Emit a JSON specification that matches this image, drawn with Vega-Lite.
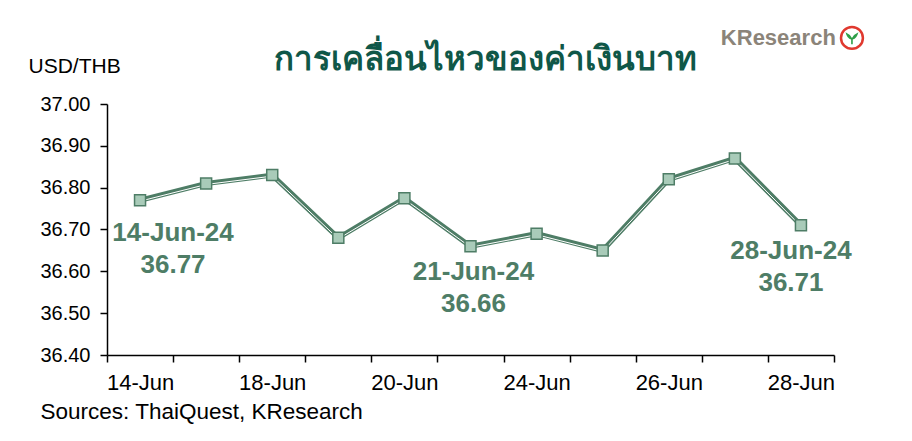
{
  "$schema": "https://vega.github.io/schema/vega-lite/v6.json",
  "autosize": "none",
  "width": 727,
  "height": 251,
  "padding": {"left": 107, "top": 104, "right": 78, "bottom": 86},
  "background": "white",
  "config": {"view": {"stroke": null}, "font": "Liberation Sans"},
  "datasets": {
    "fx": [
      {"date": "14-Jun", "rate": 36.77},
      {"date": "17-Jun", "rate": 36.81},
      {"date": "18-Jun", "rate": 36.83},
      {"date": "19-Jun", "rate": 36.68},
      {"date": "20-Jun", "rate": 36.775},
      {"date": "21-Jun", "rate": 36.66},
      {"date": "24-Jun", "rate": 36.69},
      {"date": "25-Jun", "rate": 36.65},
      {"date": "26-Jun", "rate": 36.82},
      {"date": "27-Jun", "rate": 36.87},
      {"date": "28-Jun", "rate": 36.71}
    ],
    "notes": [
      {"date": "14-Jun", "rate": 36.77, "label": "14-Jun-24\n36.77"},
      {"date": "21-Jun", "rate": 36.66, "label": "21-Jun-24\n36.66"},
      {"date": "28-Jun", "rate": 36.71, "label": "28-Jun-24\n36.71"}
    ],
    "heading": [
      {"date": "21-Jun", "rate": 37.081, "label": "การเคลื่อนไหวของค่าเงินบาท"}
    ],
    "logo": [
      {"date": "27-Jun", "rate": 37.141, "label": "KResearch"}
    ],
    "badge": [
      {"date": "28-Jun", "rate": 37.158}
    ]
  },
  "encoding": {
    "x": {
      "field": "date",
      "type": "ordinal",
      "sort": null,
      "scale": {"type": "band", "paddingInner": 0, "paddingOuter": 0},
      "axis": {
        "title": "Sources: ThaiQuest, KResearch",
        "titleFontSize": 22.5,
        "titleFontWeight": "normal",
        "titleColor": "black",
        "titleAnchor": "start",
        "titleAlign": "left",
        "titleBaseline": "alphabetic",
        "titleX": -67,
        "titleY": 63,
        "labelAngle": 0,
        "labelFontSize": 22,
        "labelColor": "black",
        "labelPadding": 10,
        "labelExpr": "indexof(['14-Jun','18-Jun','20-Jun','24-Jun','26-Jun','28-Jun'], datum.value) >= 0 ? datum.value : ''",
        "tickBand": "extent",
        "tickSize": 7,
        "tickColor": "black",
        "tickWidth": 1.5,
        "domainColor": "black",
        "domainWidth": 1.5,
        "grid": false
      }
    },
    "y": {
      "field": "rate",
      "type": "quantitative",
      "scale": {"domain": [36.4, 37.0], "nice": false, "zero": false},
      "axis": {
        "title": "USD/THB",
        "titleAngle": 0,
        "titleFontSize": 21,
        "titleFontWeight": "normal",
        "titleColor": "black",
        "titleAlign": "left",
        "titleBaseline": "alphabetic",
        "titleX": -79,
        "titleY": -32,
        "values": [36.4, 36.5, 36.6, 36.7, 36.8, 36.9, 37.0],
        "format": ".2f",
        "labelFontSize": 20,
        "labelColor": "black",
        "labelPadding": 10,
        "tickSize": 7,
        "tickColor": "black",
        "tickWidth": 1.5,
        "domainColor": "black",
        "domainWidth": 1.5,
        "grid": false
      }
    }
  },
  "layer": [
    {
      "data": {"name": "fx"},
      "mark": {"type": "line", "color": "#4e7d66", "strokeWidth": 5},
      "encoding": {}
    },
    {
      "data": {"name": "fx"},
      "mark": {"type": "line", "color": "white", "strokeWidth": 1, "yOffset": 1},
      "encoding": {}
    },
    {
      "data": {"name": "fx"},
      "mark": {"type": "point", "shape": "square", "filled": true, "fill": "#a9cbb9", "stroke": "#4e7d66", "strokeWidth": 1.5, "size": 121, "opacity": 1},
      "encoding": {}
    },
    {
      "data": {"name": "notes"},
      "transform": [{"filter": "datum.date == '14-Jun'"}],
      "mark": {"type": "text", "lineBreak": "\n", "lineHeight": 32, "fontSize": 26, "fontWeight": "bold", "color": "#4e7d66", "align": "center", "baseline": "alphabetic", "dx": 33, "dy": 41},
      "encoding": {"text": {"field": "label"}}
    },
    {
      "data": {"name": "notes"},
      "transform": [{"filter": "datum.date == '21-Jun'"}],
      "mark": {"type": "text", "lineBreak": "\n", "lineHeight": 32, "fontSize": 26, "fontWeight": "bold", "color": "#4e7d66", "align": "center", "baseline": "alphabetic", "dx": 3, "dy": 34},
      "encoding": {"text": {"field": "label"}}
    },
    {
      "data": {"name": "notes"},
      "transform": [{"filter": "datum.date == '28-Jun'"}],
      "mark": {"type": "text", "lineBreak": "\n", "lineHeight": 32, "fontSize": 26, "fontWeight": "bold", "color": "#4e7d66", "align": "center", "baseline": "alphabetic", "dx": -10, "dy": 34},
      "encoding": {"text": {"field": "label"}}
    },
    {
      "data": {"name": "heading"},
      "mark": {"type": "text", "fontSize": 33, "fontWeight": "bold", "color": "#0f5748", "align": "center", "baseline": "alphabetic", "dx": 15, "clip": false},
      "encoding": {"text": {"field": "label"}}
    },
    {
      "data": {"name": "logo"},
      "mark": {"type": "text", "fontSize": 22, "fontWeight": "bold", "color": "#8b8479", "align": "left", "baseline": "alphabetic", "dx": -14, "clip": false},
      "encoding": {"text": {"field": "label"}}
    },
    {
      "data": {"name": "badge"},
      "mark": {"type": "point", "shape": "circle", "filled": true, "fill": "white", "stroke": "#e0392f", "strokeWidth": 2.5, "size": 480, "opacity": 1, "xOffset": 51, "clip": false},
      "encoding": {}
    },
    {
      "data": {"name": "badge"},
      "mark": {"type": "point", "shape": "M-0.8,-0.7 Q-0.6,0.1 -0.1,0.2 L-0.1,0.8 L0.1,0.8 L0.1,0.2 Q0.6,0.1 0.8,-0.7 Q0.25,-0.45 0,0.0 Q-0.25,-0.45 -0.8,-0.7 Z", "filled": true, "fill": "#2f9e48", "strokeWidth": 0, "size": 260, "opacity": 1, "xOffset": 51, "clip": false},
      "encoding": {}
    }
  ]
}
